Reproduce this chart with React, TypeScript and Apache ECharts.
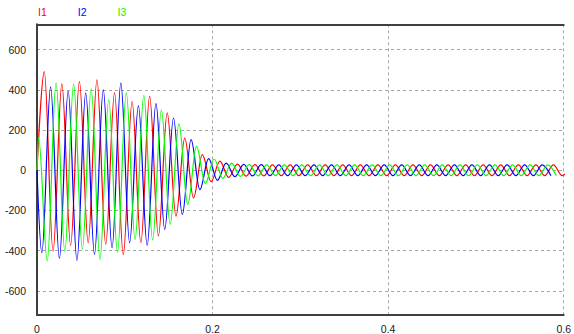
import React, { useEffect, useRef } from "react";
import * as echarts from "echarts";

// ---- data ----
const SERIES_NAMES = ["I1", "I2", "I3"];
const SERIES_COLORS = ["#ff0000", "#0000ff", "#00ff00"];
const X_TICKS = [0, 0.2, 0.4, 0.6];
const Y_TICKS = [-600, -400, -200, 0, 200, 400, 600];

// waveform extrema (peaks / troughs), one every half period of 50 Hz
const HALF_PERIOD = 0.01;
const I1_FIRST_T = 0.0083; // first extremum (a peak)
const I2_FIRST_T = 0.0055; // first extremum (a trough)
const I3_FIRST_T = 0.0017; // first extremum (a peak)
const START_VALUES = [0, 0, 0];

const I1_EXTREMA = [
  491, -402, 430, -373, 441, -360, 450, -368, 385, -420, 342, -360, 367, -327,
  285, -228, 160, -137, 78, -57, 45, -35,
  30, -29, 28, -28, 27, -27, 27, -27, 27, -27, 27, -27, 27, -27, 27, -27, 27,
  -27, 27, -27, 27, -27, 27, -27, 27, -27, 27, -27, 27, -27, 27, -27, 27, -27,
  27, -27, 27, -27, 27,
];
const I2_EXTREMA = [
  -410, 413, -438, 392, -448, 384, -418, 400, -385, 433, -360, 320, -373, 331,
  -294, 260, -220, 152, -96, 58, -50, 35, -32,
  29, -28, 28, -27, 27, -27, 27, -27, 27, -27, 27, -27, 27, -27, 27, -27, 27,
  -27, 27, -27, 27, -27, 27, -27, 27, -27, 27, -27, 27, -27, 27, -27, 27, -27,
  27, -27,
];
const I3_EXTREMA = [
  165, -451, 433, -402, 428, -393, 405, -443, 350, -407, 385, -344, 372, -347,
  301, -269, 231, -170, 119, -66, 56, -40, 35, -30,
  28, -28, 27, -27, 27, -27, 27, -27, 27, -27, 27, -27, 27, -27, 27, -27, 27,
  -27, 27, -27, 27, -27, 27, -27, 27, -27, 27, -27, 27, -27, 27, -27, 27, -27,
  27, -27,
];

const EXTREMA = [I1_EXTREMA, I2_EXTREMA, I3_EXTREMA];
const FIRST_T = [I1_FIRST_T, I2_FIRST_T, I3_FIRST_T];

const FONT = "'Liberation Sans', Arial, sans-serif";

function buildSeriesData(i: number): [number, number][] {
  const pts: [number, number][] = [[0, START_VALUES[i]]];
  EXTREMA[i].forEach((v, k) => {
    pts.push([+(FIRST_T[i] + k * HALF_PERIOD).toFixed(4), v]);
  });
  return pts;
}

export default function App() {
  const ref = useRef<HTMLDivElement>(null);
  useEffect(() => {
    const chart = echarts.init(ref.current!, null, { renderer: "svg" });
    const axisLineStyle = { color: "#404040", width: 2 };
    const splitLineStyle = { color: "#a6a6a6", width: 1, type: [3, 3] as number[] };
    chart.setOption({
      animation: false,
      backgroundColor: "#ffffff",
      textStyle: { fontFamily: FONT },
      legend: {
        left: 33,
        top: 6,
        padding: 0,
        icon: "none",
        itemWidth: 0,
        itemHeight: 10,
        itemGap: 26,
        selectedMode: false,
        textStyle: { fontSize: 10.5, fontFamily: FONT },
        data: SERIES_NAMES.map((n, i) => ({
          name: n,
          textStyle: { color: SERIES_COLORS[i] },
        })),
      },
      grid: { left: 37, right: 7.5, top: 24.3, bottom: 18.3, containLabel: false },
      xAxis: [
        {
          type: "value",
          min: 0,
          max: 0.6,
          interval: 0.2,
          position: "bottom",
          axisLine: { show: true, onZero: false, lineStyle: axisLineStyle },
          axisTick: { show: false },
          axisLabel: {
            customValues: X_TICKS,
            color: "#1a1a1a",
            fontSize: 10.5,
            margin: 8,
            formatter: (v: number) => String(v),
          },
          splitLine: { show: true, lineStyle: splitLineStyle },
        },
        {
          type: "value",
          min: 0,
          max: 0.6,
          position: "top",
          axisLine: { show: true, onZero: false, lineStyle: axisLineStyle },
          axisTick: { show: false },
          axisLabel: { show: false },
          splitLine: { show: false },
        },
      ],
      yAxis: {
        type: "value",
        min: -720,
        max: 726,
        axisLine: { show: true, onZero: false, lineStyle: axisLineStyle },
        axisTick: { show: false, customValues: Y_TICKS },
        axisLabel: {
          customValues: Y_TICKS,
          color: "#1a1a1a",
          fontSize: 10.5,
          margin: 11,
        },
        splitLine: { show: true, lineStyle: splitLineStyle },
      },
      series: SERIES_NAMES.map((n, i) => ({
        name: n,
        type: "line",
        xAxisIndex: 0,
        data: buildSeriesData(i),
        showSymbol: false,
        symbol: "none",
        smooth: 0.36,
        smoothMonotone: "x",
        clip: true,
        color: SERIES_COLORS[i],
        lineStyle: { width: 1.2, color: SERIES_COLORS[i] },
        emphasis: { disabled: true },
      })),
    });
    return () => chart.dispose();
  }, []);
  return (
    <div
      ref={ref}
      style={{ position: "fixed", left: 0, top: 0, width: 574, height: 334, background: "#fff" }}
    />
  );
}
